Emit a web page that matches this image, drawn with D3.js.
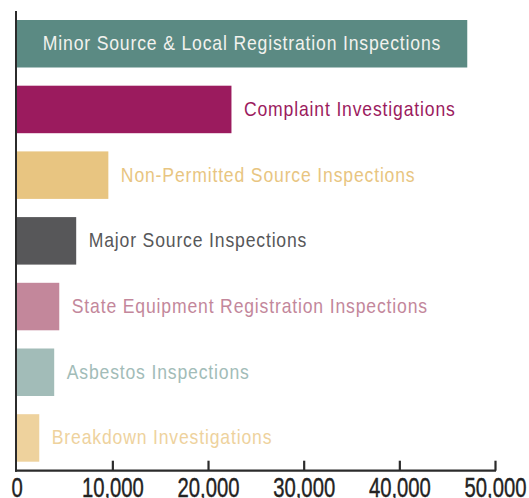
<!DOCTYPE html>
<html>
<head>
<meta charset="utf-8">
<script src="https://cdn.jsdelivr.net/npm/d3@7"></script>
<style>
  html, body { margin: 0; padding: 0; background: #fff; }
  svg { display: block; }
  .lbl { font-family: "Liberation Sans", Arial, sans-serif; }
</style>
</head>
<body>
<svg id="chart" width="529" height="498"></svg>
<script>
const categories = [
  "Minor Source & Local Registration Inspections",
  "Complaint Investigations",
  "Non-Permitted Source Inspections",
  "Major Source Inspections",
  "State Equipment Registration Inspections",
  "Asbestos Inspections",
  "Breakdown Investigations"
];
const values = [47100, 22450, 9580, 6220, 4450, 3920, 2360];
const colors = ["#5b8a83", "#9b1b5e", "#e8c581", "#575759", "#c3879b", "#a2bcb8", "#eed29d"];
const labelInside = [true, false, false, false, false, false, false];
const tickValues = [0, 10000, 20000, 30000, 40000, 50000];
const tickLabels = ["0", "10,000", "20,000", "30,000", "40,000", "50,000"];

const svg = d3.select("#chart");
const x0 = 16.7, x1 = 495, yTop = 11, yBot = 470.7;
const labelScale = 0.88, tickScale = 0.75;

const x = d3.scaleLinear().domain([0, 50000]).range([x0, x1]);
const y = d3.scaleBand().domain(categories).range([yTop, yBot])
  .paddingInner(0.277).paddingOuter(0.137);

// bars
svg.append("g").selectAll("rect").data(categories).join("rect")
  .attr("x", x(0))
  .attr("y", d => y(d))
  .attr("width", (d, i) => x(values[i]) - x(0))
  .attr("height", y.bandwidth())
  .attr("fill", (d, i) => colors[i]);

// labels
svg.append("g").selectAll("text").data(categories).join("text")
  .attr("class", "lbl")
  .attr("transform", (d, i) => {
    const tx = labelInside[i] ? (x(0) + x(values[i])) / 2 : x(values[i]) + 12.5;
    const ty = y(d) + y.bandwidth() / 2 + 6.5;
    return `translate(${tx},${ty}) scale(${labelScale},1)`;
  })
  .attr("text-anchor", (d, i) => labelInside[i] ? "middle" : "start")
  .attr("font-size", 20)
  .attr("letter-spacing", 0.95)
  .attr("fill", (d, i) => labelInside[i] ? "#f2f2ee" : colors[i])
  .text(d => d);

// left axis line
svg.append("line")
  .attr("x1", 16).attr("x2", 16)
  .attr("y1", yTop).attr("y2", yBot + 1)
  .attr("stroke", "#2b2b2b").attr("stroke-width", 2);

// bottom axis
const axis = d3.axisBottom(x)
  .tickValues(tickValues)
  .tickSizeInner(-10)
  .tickSizeOuter(0)
  .tickPadding(0)
  .tickFormat((d, i) => tickLabels[i]);

const gx = svg.append("g").attr("transform", `translate(0,${yBot})`).call(axis);
gx.select(".domain").attr("stroke", "#2b2b2b").attr("stroke-width", 2.2)
  .attr("d", `M${15},0H${x1 + 1}`);
gx.selectAll(".tick line").attr("stroke", "#2b2b2b").attr("stroke-width", 2.2);
gx.selectAll(".tick").filter(d => d === 0).select("line").remove();
gx.selectAll(".tick text")
  .attr("class", "lbl")
  .attr("font-size", 27)
  .attr("fill", "#222")
  .attr("stroke", "#222")
  .attr("stroke-width", 0.4)
  .attr("y", null)
  .attr("dy", null)
  .attr("transform", `translate(0,26) scale(${tickScale},1)`);
</script>
</body>
</html>
